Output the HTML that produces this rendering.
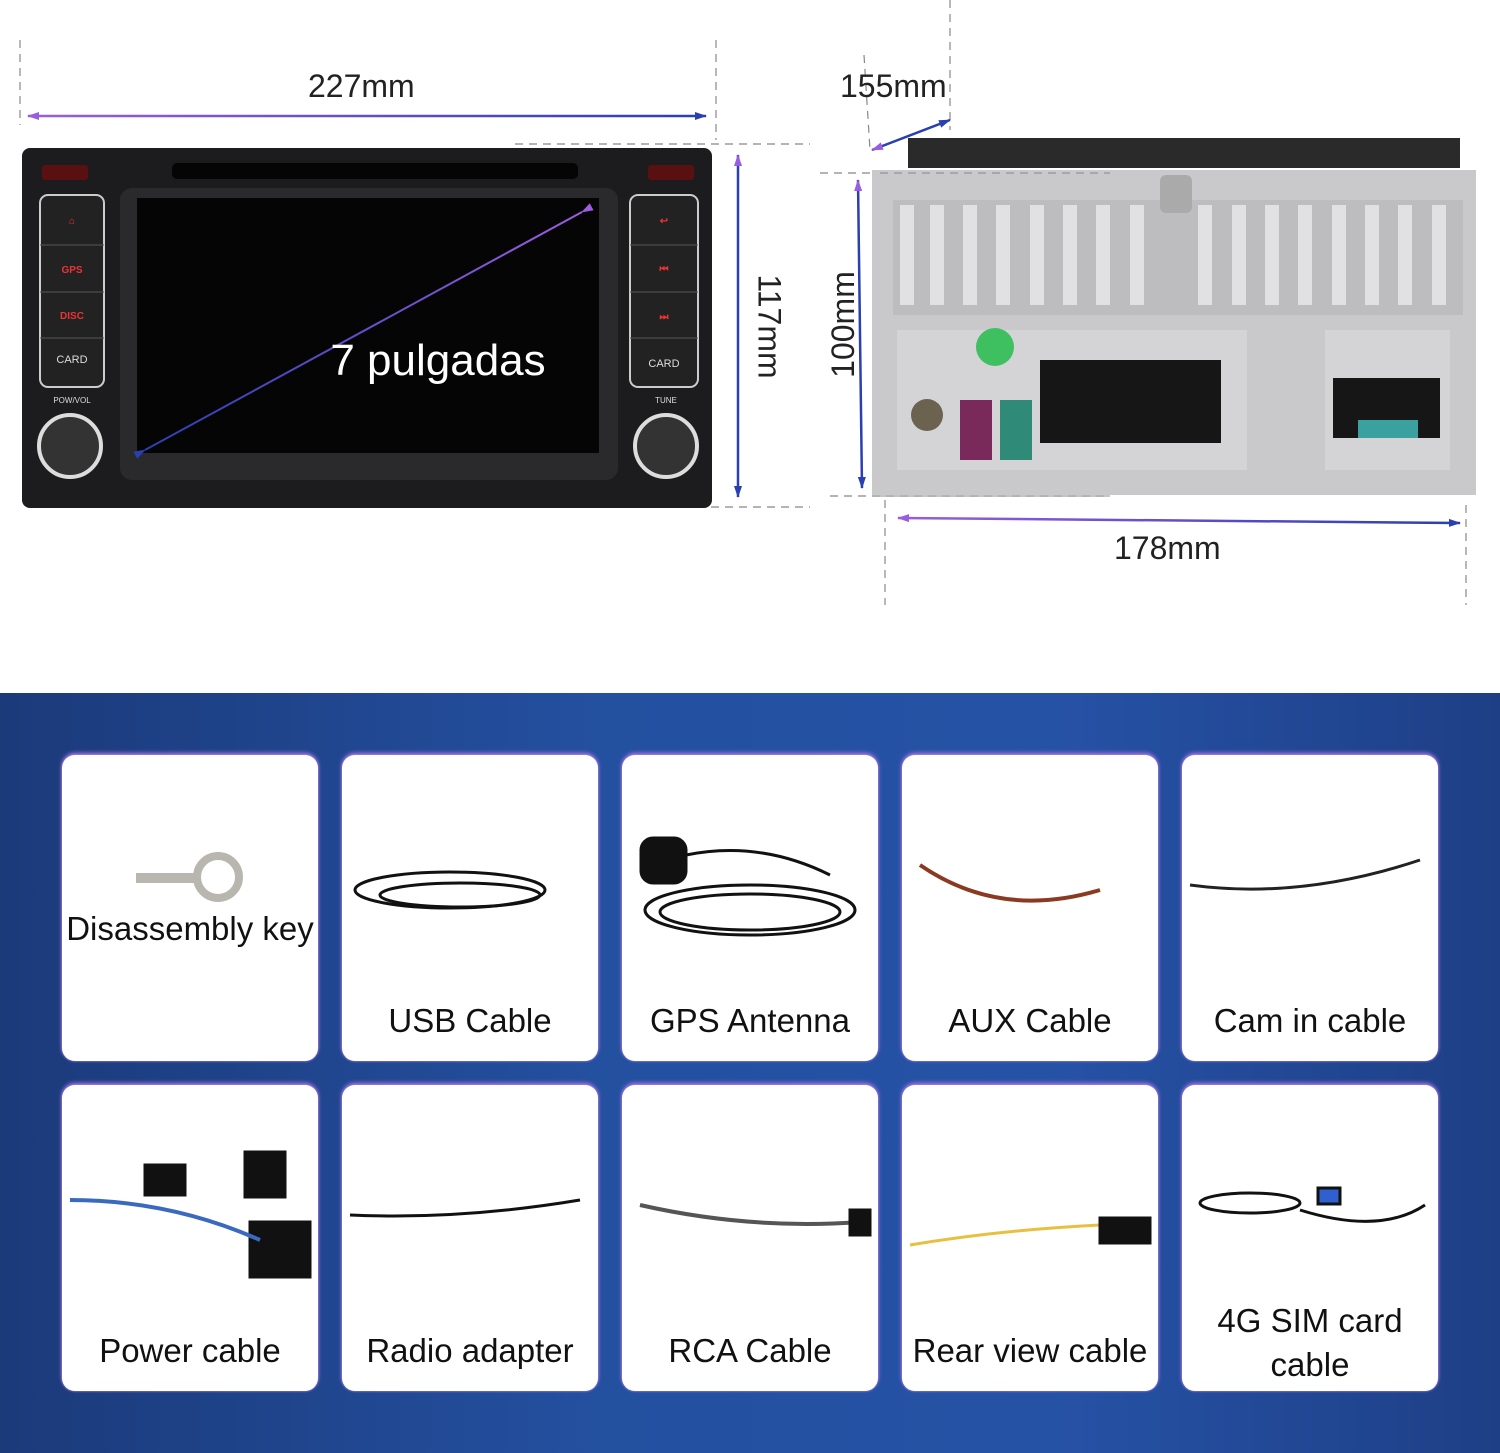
<!DOCTYPE html><html><head><style>
body{margin:0;width:1500px;height:1453px;position:relative;background:#fff;font-family:"Liberation Sans",sans-serif;overflow:hidden}
.bg{position:absolute;left:0;top:693px;width:1500px;height:760px;background:linear-gradient(90deg,#1b3a7a 0%,#2450a0 40%,#2652a6 70%,#1e3f86 100%)}
.card{position:absolute;width:256px;height:306px;background:#fff;border-radius:13px;box-shadow:0 -2px 4px #a97ae8, 0 0 2px #b58cf0}
.lbl{position:absolute;left:0;width:100%;text-align:center;font-size:33px;color:#111;line-height:44px}
.dim{position:absolute;font-size:32px;color:#222}
</style></head><body>
<svg width="1500" height="693" style="position:absolute;left:0;top:0">
<defs><marker id="a" markerUnits="userSpaceOnUse" markerWidth="12" markerHeight="10" refX="11" refY="5" orient="auto"><path d="M0,1L12,5L0,9z" fill="#2a3fb0"/></marker>
<marker id="b" markerUnits="userSpaceOnUse" markerWidth="12" markerHeight="10" refX="1" refY="5" orient="auto"><path d="M12,1L0,5L12,9z" fill="#9a5de0"/></marker>
<linearGradient id="g" gradientUnits="userSpaceOnUse" x1="28" y1="0" x2="706" y2="0"><stop offset="0" stop-color="#9a5de0"/><stop offset="1" stop-color="#2a3fb0"/></linearGradient>
<linearGradient id="g2" gradientUnits="userSpaceOnUse" x1="898" y1="0" x2="1460" y2="0"><stop offset="0" stop-color="#9a5de0"/><stop offset="1" stop-color="#2a3fb0"/></linearGradient>
<linearGradient id="g3" gradientUnits="userSpaceOnUse" x1="145" y1="450" x2="582" y2="212"><stop offset="0" stop-color="#2a3fb0"/><stop offset="1" stop-color="#9a5de0"/></linearGradient></defs>
<g stroke="#888" stroke-dasharray="8,6" stroke-width="1.2" fill="none">
<line x1="20" y1="40" x2="20" y2="125"/><line x1="716" y1="40" x2="716" y2="140"/>
<line x1="515" y1="144" x2="810" y2="144"/><line x1="515" y1="507" x2="810" y2="507"/>
<line x1="950" y1="0" x2="950" y2="130"/><line x1="864" y1="55" x2="870" y2="150"/>
<line x1="820" y1="173" x2="1110" y2="173"/><line x1="830" y1="496" x2="1110" y2="496"/>
<line x1="885" y1="500" x2="885" y2="605"/><line x1="1466" y1="505" x2="1466" y2="605"/></g>
<line x1="28" y1="116" x2="706" y2="116" stroke="url(#g)" stroke-width="2.5" marker-start="url(#b)" marker-end="url(#a)"/>
<line x1="898" y1="518" x2="1460" y2="523" stroke="url(#g2)" stroke-width="2.5" marker-start="url(#b)" marker-end="url(#a)"/>
<line x1="738" y1="155" x2="738" y2="497" stroke="#2a3fb0" stroke-width="2.5" marker-start="url(#b)" marker-end="url(#a)"/>
<line x1="858" y1="180" x2="862" y2="488" stroke="#2a3fb0" stroke-width="2.5" marker-start="url(#b)" marker-end="url(#a)"/>
<line x1="872" y1="150" x2="950" y2="120" stroke="#2a3fb0" stroke-width="2.5" marker-start="url(#b)" marker-end="url(#a)"/>
<!-- front unit -->
<rect x="22" y="148" width="690" height="360" rx="8" fill="#1c1c1e"/>
<rect x="172" y="163" width="406" height="16" rx="5" fill="#050505"/>
<rect x="42" y="165" width="46" height="15" rx="3" fill="#5a1010"/><rect x="648" y="165" width="46" height="15" rx="3" fill="#5a1010"/>
<rect x="120" y="188" width="498" height="292" rx="12" fill="#2a2a2c"/>
<rect x="137" y="198" width="462" height="255" fill="#050505"/>
<g fill="#222" stroke="#ccc" stroke-width="2">
<rect x="40" y="195" width="64" height="192" rx="8"/><rect x="630" y="195" width="68" height="192" rx="8"/></g>
<g stroke="#555"><line x1="40" y1="245" x2="104" y2="245"/><line x1="40" y1="292" x2="104" y2="292"/><line x1="40" y1="338" x2="104" y2="338"/>
<line x1="630" y1="245" x2="698" y2="245"/><line x1="630" y1="292" x2="698" y2="292"/><line x1="630" y1="338" x2="698" y2="338"/></g>
<g font-size="10" fill="#e33" font-weight="bold" text-anchor="middle"><text x="72" y="273">GPS</text><text x="72" y="319">DISC</text><text x="72" y="224">⌂</text><text x="664" y="224">↩</text><text x="664" y="272">⏮</text><text x="664" y="320">⏭</text></g>
<g font-size="11" fill="#ddd" text-anchor="middle"><text x="72" y="363">CARD</text><text x="664" y="367">CARD</text><text x="72" y="403" font-size="8">POW/VOL</text><text x="666" y="403" font-size="8">TUNE</text></g>
<circle cx="70" cy="446" r="31" fill="#333" stroke="#ddd" stroke-width="4"/><circle cx="666" cy="446" r="31" fill="#333" stroke="#ddd" stroke-width="4"/>
<line x1="145" y1="450" x2="582" y2="212" stroke="url(#g3)" stroke-width="2" marker-start="url(#a)" marker-end="url(#b)"/>
<text x="438" y="375" font-size="44" fill="#fff" text-anchor="middle">7 pulgadas</text>
<!-- back unit -->
<rect x="908" y="138" width="552" height="30" fill="#2a2a2a"/>
<polygon points="872,170 1476,170 1476,495 872,495" fill="#c9c9cb"/>
<rect x="893" y="200" width="570" height="115" fill="#bdbdbf"/>
<g fill="#e1e1e3">
<rect x="900" y="205" width="14" height="100"/><rect x="930" y="205" width="14" height="100"/><rect x="963" y="205" width="14" height="100"/><rect x="996" y="205" width="14" height="100"/><rect x="1030" y="205" width="14" height="100"/><rect x="1063" y="205" width="14" height="100"/><rect x="1096" y="205" width="14" height="100"/><rect x="1130" y="205" width="14" height="100"/>
<rect x="1198" y="205" width="14" height="100"/><rect x="1232" y="205" width="14" height="100"/><rect x="1265" y="205" width="14" height="100"/><rect x="1298" y="205" width="14" height="100"/><rect x="1332" y="205" width="14" height="100"/><rect x="1365" y="205" width="14" height="100"/><rect x="1398" y="205" width="14" height="100"/><rect x="1432" y="205" width="14" height="100"/></g>
<rect x="1160" y="175" width="32" height="38" rx="6" fill="#aaa"/>
<rect x="897" y="330" width="350" height="140" fill="#d4d4d6"/><rect x="1325" y="330" width="125" height="140" fill="#d4d4d6"/>
<rect x="1040" y="360" width="181" height="83" fill="#161616"/>
<rect x="1333" y="378" width="107" height="60" fill="#161616"/><rect x="1358" y="420" width="60" height="18" fill="#3aa0a0"/>
<circle cx="927" cy="415" r="16" fill="#6b6350"/>
<rect x="960" y="400" width="32" height="60" fill="#7a2a5a"/><rect x="1000" y="400" width="32" height="60" fill="#2f8a78"/>
<circle cx="995" cy="347" r="19" fill="#3ec060"/>
<line x1="880" y1="173" x2="1110" y2="173" stroke="#888" stroke-dasharray="8,6"/>
<line x1="880" y1="496" x2="1110" y2="496" stroke="#888" stroke-dasharray="8,6"/>
</svg>
<div class="dim" style="left:308px;top:68px">227mm</div>
<div class="dim" style="left:840px;top:68px">155mm</div>
<div class="dim" style="left:1114px;top:530px">178mm</div>
<div class="dim" style="left:717px;top:308px;transform:rotate(90deg)">117mm</div>
<div class="dim" style="left:790px;top:306px;transform:rotate(-90deg)">100mm</div>
<div class="bg"></div>
<div class="card" style="left:62px;top:755px"><div class="lbl" style="top:152px">Disassembly key</div>
<svg width="256" height="120" style="position:absolute;left:0;top:80px"><rect x="74" y="38" width="60" height="10" fill="#b8b6ae"/><circle cx="156" cy="42" r="21" fill="none" stroke="#b8b6ae" stroke-width="8"/></svg></div>
<div class="card" style="left:342px;top:755px"><div class="lbl" style="top:244px">USB Cable</div></div>
<div class="card" style="left:622px;top:755px"><div class="lbl" style="top:244px">GPS Antenna</div></div>
<div class="card" style="left:902px;top:755px"><div class="lbl" style="top:244px">AUX Cable</div></div>
<div class="card" style="left:1182px;top:755px"><div class="lbl" style="top:244px">Cam in cable</div></div>
<div class="card" style="left:62px;top:1085px"><div class="lbl" style="top:244px">Power cable</div></div>
<div class="card" style="left:342px;top:1085px"><div class="lbl" style="top:244px">Radio adapter</div></div>
<div class="card" style="left:622px;top:1085px"><div class="lbl" style="top:244px">RCA Cable</div></div>
<div class="card" style="left:902px;top:1085px"><div class="lbl" style="top:244px">Rear view cable</div></div>
<div class="card" style="left:1182px;top:1085px"><div class="lbl" style="top:214px;line-height:44px">4G SIM card<br>cable</div></div>
<svg width="1500" height="1453" style="position:absolute;left:0;top:0" fill="none" stroke="#111" stroke-width="3">
<ellipse cx="450" cy="890" rx="95" ry="18"/><ellipse cx="460" cy="895" rx="80" ry="12"/>
<rect x="641" y="838" width="45" height="45" rx="12" fill="#111"/>
<ellipse cx="750" cy="910" rx="105" ry="25"/><ellipse cx="750" cy="912" rx="90" ry="18"/><path d="M686 855 Q760 840 830 875"/>
<path d="M920 865 Q1000 920 1100 890" stroke="#8a3a20" stroke-width="4"/>
<path d="M1190 885 Q1300 900 1420 860" stroke="#222"/>
<rect x="145" y="1165" width="40" height="30" fill="#111"/><rect x="245" y="1152" width="40" height="45" fill="#111"/><rect x="250" y="1222" width="60" height="55" fill="#111"/><path d="M70 1200 Q170 1200 260 1240" stroke="#3a6ac0" stroke-width="4"/>
<path d="M350 1215 Q460 1220 580 1200"/>
<path d="M640 1205 Q750 1230 860 1222" stroke="#555" stroke-width="4"/><rect x="850" y="1210" width="20" height="25" fill="#111"/>
<path d="M910 1245 Q1000 1230 1100 1225" stroke="#e8c040"/><rect x="1100" y="1218" width="50" height="25" fill="#111"/>
<ellipse cx="1250" cy="1203" rx="50" ry="10"/><path d="M1300 1210 Q1380 1235 1425 1205"/><rect x="1318" y="1188" width="22" height="16" fill="#3060d0"/>
</svg>
</body></html>
